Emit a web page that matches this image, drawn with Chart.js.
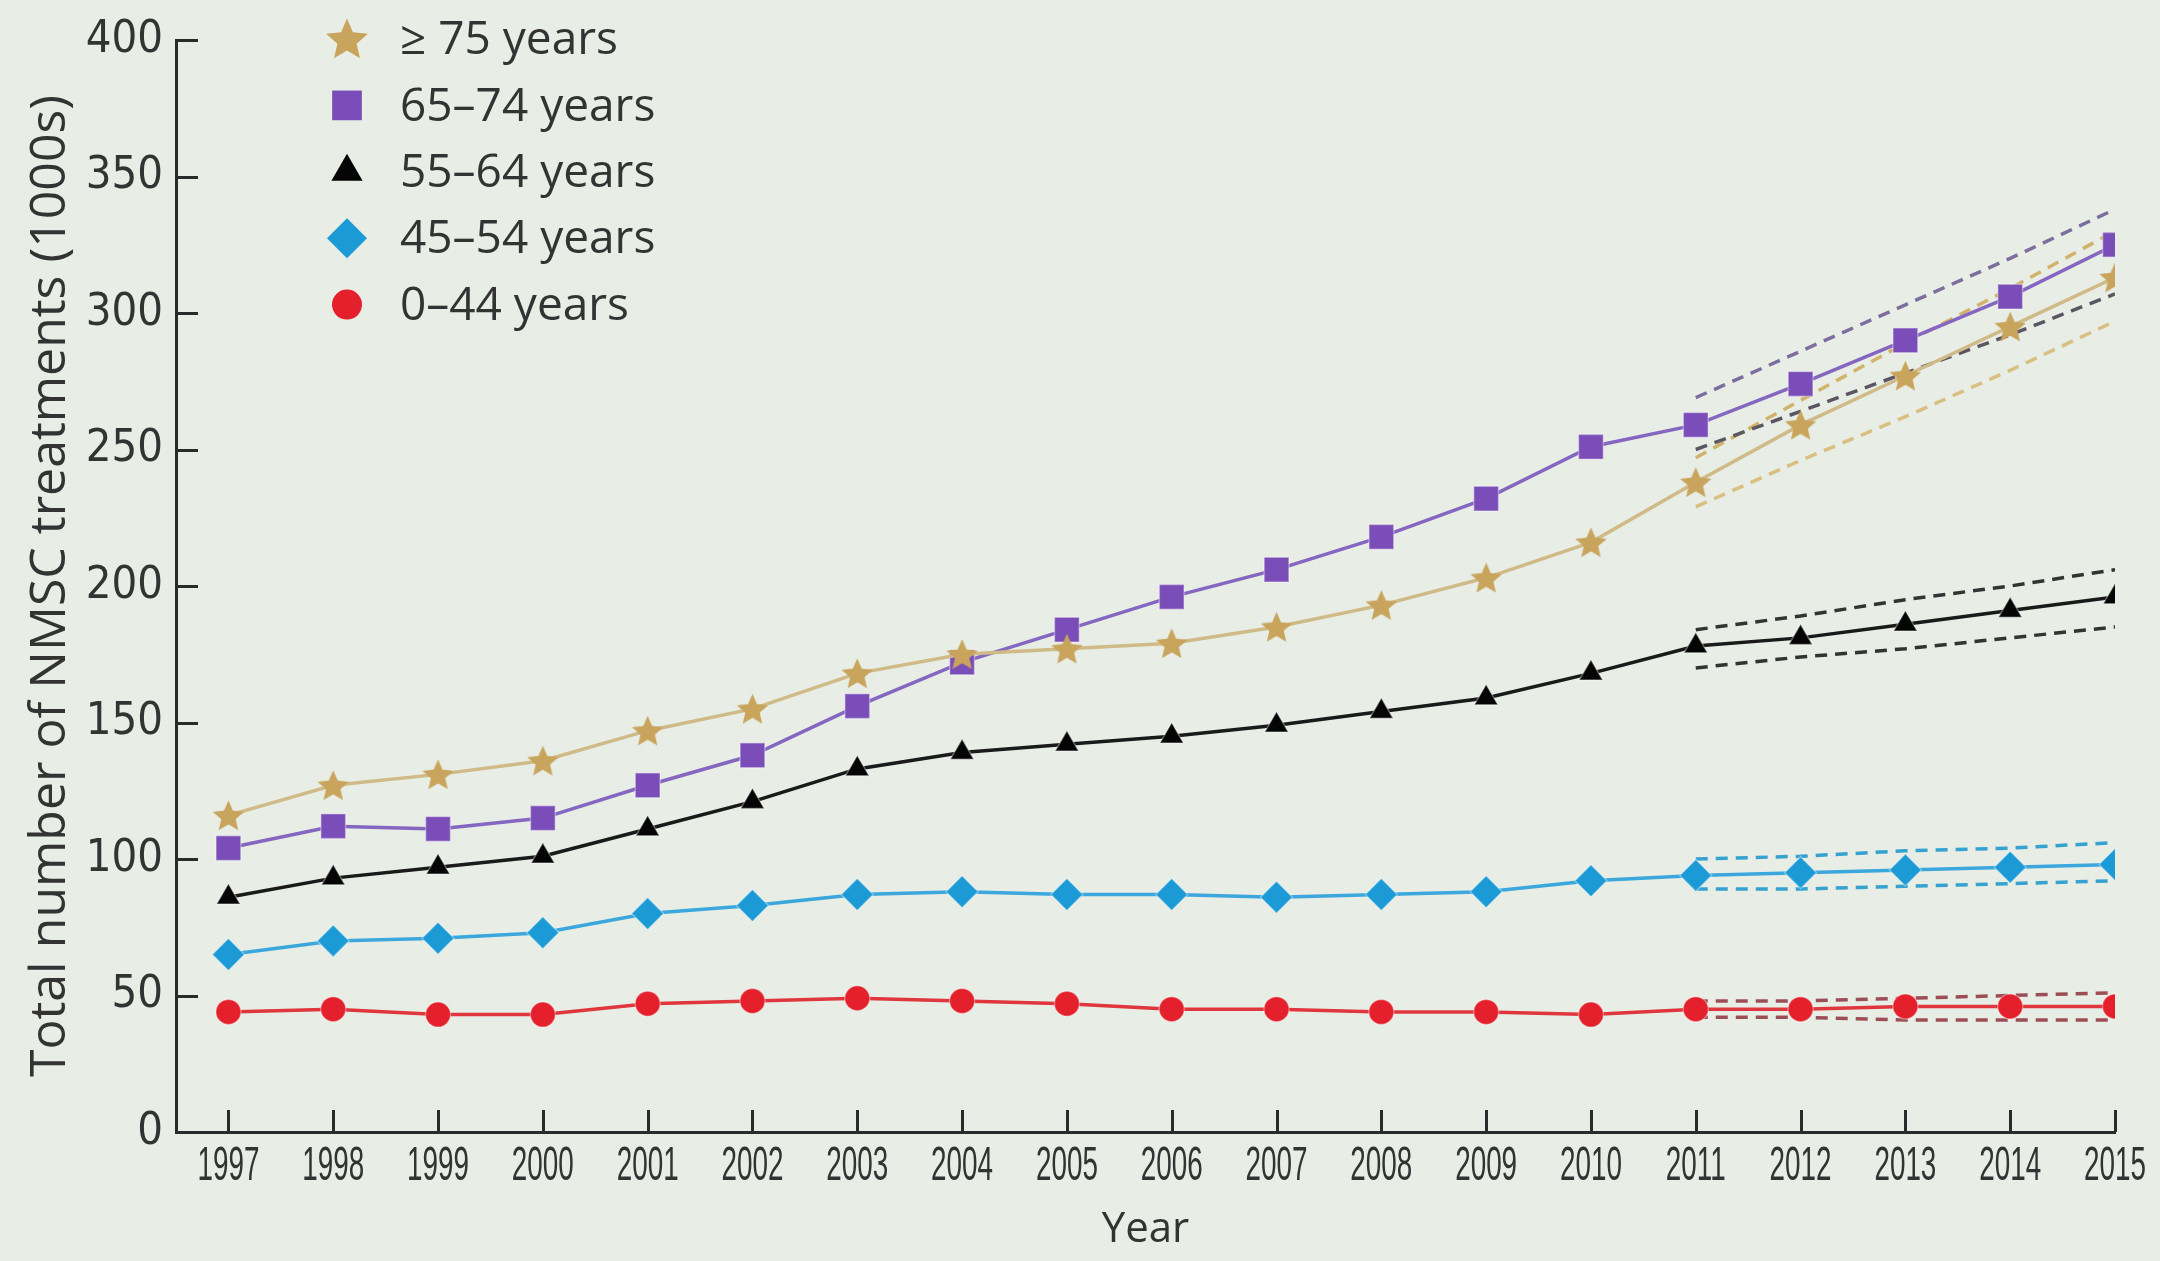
<!DOCTYPE html>
<html>
<head>
<meta charset="utf-8">
<script src="https://cdn.jsdelivr.net/npm/chart.js@4/dist/chart.umd.min.js"></script>
<style>
  html, body { margin: 0; padding: 0; background: #e8eee6; }
  #wrap { width: 2160px; height: 1261px; }
</style>
</head>
<body>
<div id="wrap"><canvas id="nmscChart" width="2160" height="1261"></canvas></div>
<script>
// NMSC TREATMENTS BY AGE GROUP - LINE

const years = [1997, 1998, 1999, 2000, 2001, 2002, 2003, 2004, 2005, 2006,
               2007, 2008, 2009, 2010, 2011, 2012, 2013, 2014, 2015];
const forecastYears = [2011, 2012, 2013, 2014, 2015];

const age75plus = [116, 127, 131, 136, 147, 155, 168, 175, 177, 179,
                   185, 193, 203, 216, 238, 259, 277, 295, 313];
const age65to74 = [104, 112, 111, 115, 127, 138, 156, 172, 184, 196,
                   206, 218, 232, 251, 259, 274, 290, 306, 325];
const age55to64 = [86, 93, 97, 101, 111, 121, 133, 139, 142, 145,
                   149, 154, 159, 168, 178, 181, 186, 191, 196];
const age45to54 = [65, 70, 71, 73, 80, 83, 87, 88, 87, 87,
                   86, 87, 88, 92, 94, 95, 96, 97, 98];
const age0to44 = [44, 45, 43, 43, 47, 48, 49, 48, 47, 45,
                  45, 44, 44, 43, 45, 45, 46, 46, 46];

// projection bands, 2011-2015
const age75Upper = [247, 268, 289, 309, 330];
const age75Lower = [229, 246, 262, 279, 297];
const age65Upper = [269, 286, 303, 320, 338];
const age65Lower = [250, 264, 278, 292, 307];
const age55Upper = [184, 189, 195, 200, 206];
const age55Lower = [170, 174, 177, 181, 185];
const age45Upper = [100, 101, 103, 104, 106];
const age45Lower = [89, 89, 90, 91, 92];
const age0Upper = [48, 48, 49, 50, 51];
const age0Lower = [42, 42, 41, 41, 41];

const yTicks = [0, 50, 100, 150, 200, 250, 300, 350, 400];

const GOLD = "#c8a45c";
const PURPLE = "#7b4db8";
const BLACK = "#050505";
const BLUE = "#1c9ad6";
const RED = "#e3202c";
const TEXT = "#333333";

function makeStar(size, color) {
    const c = document.createElement("canvas");
    c.width = size;
    c.height = size;
    const g = c.getContext("2d");
    const r = size / 2, ri = r * 0.46;
    g.beginPath();
    for (let i = 0; i < 10; i++) {
        const a = -Math.PI / 2 + i * Math.PI / 5;
        const rad = i % 2 ? ri : r;
        g.lineTo(r + rad * Math.cos(a), r + 1.5 + rad * Math.sin(a));
    }
    g.closePath();
    g.fillStyle = color;
    g.fill();
    return c;
}

const starPoint = makeStar(33, GOLD);
const starLegend = makeStar(44, GOLD);

function series(label, values, color, lineColor, style, radius, width) {
    return {
        label: label,
        data: years.map((yr, i) => ({ x: yr, y: values[i] })),
        borderColor: lineColor,
        backgroundColor: color,
        pointBackgroundColor: color,
        pointBorderColor: "rgba(255,255,255,0.35)",
        pointStyle: style,
        pointRadius: radius,
        pointHoverRadius: radius,
        pointBorderWidth: 1.5,
        borderWidth: width,
        tension: 0
    };
}

function band(values, color) {
    return {
        label: "",
        data: forecastYears.map((yr, i) => ({ x: yr, y: values[i] })),
        borderColor: color,
        borderWidth: 3.5,
        borderDash: [12, 8],
        pointRadius: 0,
        pointHoverRadius: 0,
        fill: false,
        tension: 0
    };
}

const legendItems = [
    { text: "\u2265 75 years", style: starLegend, color: GOLD, radius: 22 },
    { text: "65\u201374 years", style: "rect", color: PURPLE, radius: 21 },
    { text: "55\u201364 years", style: "triangle", color: BLACK, radius: 18 },
    { text: "45\u201354 years", style: "rectRot", color: BLUE, radius: 20 },
    { text: "0\u201344 years", style: "circle", color: RED, radius: 15 }
];

const ageLegend = {
    id: "ageLegend",
    afterDraw(chart) {
        const ctx = chart.ctx;
        ctx.save();
        legendItems.forEach((item, i) => {
            const y = 39 + i * 66.4;
            ctx.fillStyle = item.color;
            ctx.strokeStyle = item.color;
            Chart.helpers.drawPoint(ctx, { pointStyle: item.style, radius: item.radius, rotation: 0, borderWidth: 0 }, 347, y);
            ctx.fillStyle = TEXT;
            ctx.font = '46px "Open Sans"';
            ctx.textAlign = "left";
            ctx.textBaseline = "middle";
            ctx.fillText(item.text, 400, y + 2);
        });
        ctx.restore();
    }
};

// inward tick marks + condensed year labels
const axisTicks = {
    id: "axisTicks",
    beforeDatasetsDraw(chart) {
        const ctx = chart.ctx;
        const xs = chart.scales.x, ys = chart.scales.y;
        ctx.save();
        ctx.strokeStyle = "#2b2b2b";
        ctx.lineWidth = 3;
        ys.ticks.forEach(t => {
            const py = Math.round(ys.getPixelForValue(t.value)) + 0.5;
            ctx.beginPath();
            ctx.moveTo(ys.right, py);
            ctx.lineTo(ys.right + 22, py);
            ctx.stroke();
        });
        xs.ticks.forEach(t => {
            const px = Math.round(xs.getPixelForValue(t.value)) + 0.5;
            ctx.beginPath();
            ctx.moveTo(px, xs.top);
            ctx.lineTo(px, xs.top - 22);
            ctx.stroke();
        });
        ctx.fillStyle = TEXT;
        ctx.font = '48px "Liberation Sans"';
        ctx.textAlign = "center";
        ctx.textBaseline = "middle";
        xs.ticks.forEach(t => {
            ctx.save();
            ctx.translate(xs.getPixelForValue(t.value), xs.top + 35);
            ctx.scale(0.58, 1);
            ctx.fillText(String(t.value), 0, 0);
            ctx.restore();
        });
        ctx.restore();
    }
};

const nmscDiv = document.getElementById("nmscChart");

const nmscData = {
    datasets: [
        series("\u2265 75 years", age75plus, GOLD, "#d0ba88", starPoint, 16, 3.5),
        series("65\u201374 years", age65to74, PURPLE, "#8566c0", "rect", 17.5, 3.5),
        series("55\u201364 years", age55to64, BLACK, "#1a1a1a", "triangle", 13.5, 3.5),
        series("45\u201354 years", age45to54, BLUE, "#3ba7dc", "rectRot", 16, 3.5),
        series("0\u201344 years", age0to44, RED, "#e0363e", "circle", 12.5, 3.5),
        band(age65Upper, "#7d6e9e"),
        band(age65Lower, "#5b5662"),
        band(age75Upper, "#d2b36c"),
        band(age75Lower, "#d9bf80"),
        band(age55Upper, "#333333"),
        band(age55Lower, "#333333"),
        band(age45Upper, "#35a2cf"),
        band(age45Lower, "#35a2cf"),
        band(age0Upper, "#9c4e56"),
        band(age0Lower, "#9c4e56")
    ]
};

const nmscChart = new Chart(nmscDiv, {
    type: "line",
    data: nmscData,
    options: {
        responsive: false,
        devicePixelRatio: 1,
        animation: false,
        events: [],
        layout: { padding: { top: 37, right: 45, left: 0, bottom: 0 } },
        plugins: {
            legend: { display: false },
            tooltip: { enabled: false }
        },
        scales: {
            x: {
                type: "linear",
                min: 1996.5,
                max: 2015,
                afterBuildTicks: s => { s.ticks = years.map(v => ({ value: v })); },
                afterFit: s => { s.height = 129; },
                grid: { display: false, drawTicks: false },
                border: { display: true, color: "#2b2b2b", width: 3 },
                ticks: { display: false },
                title: {
                    display: true,
                    text: "Year",
                    color: TEXT,
                    font: { family: "Open Sans", size: 42 },
                    padding: { top: 6, bottom: 6 }
                }
            },
            y: {
                min: 0,
                max: 400,
                afterBuildTicks: s => { s.ticks = yTicks.map(v => ({ value: v })); },
                afterFit: s => { s.width = 176; },
                grid: { display: false, drawTicks: false },
                border: { display: true, color: "#2b2b2b", width: 3 },
                ticks: {
                    color: TEXT,
                    padding: 13,
                    font: { family: "'Liberation Sans Narrow', 'DejaVu Sans Condensed', sans-serif", size: 45 }
                },
                title: {
                    display: true,
                    text: "Total number of NMSC treatments (1000s)",
                    color: TEXT,
                    font: { family: "Open Sans", size: 50 },
                    padding: { top: 21, bottom: 0 }
                }
            }
        }
    },
    plugins: [axisTicks, ageLegend]
});
</script>
</body>
</html>
